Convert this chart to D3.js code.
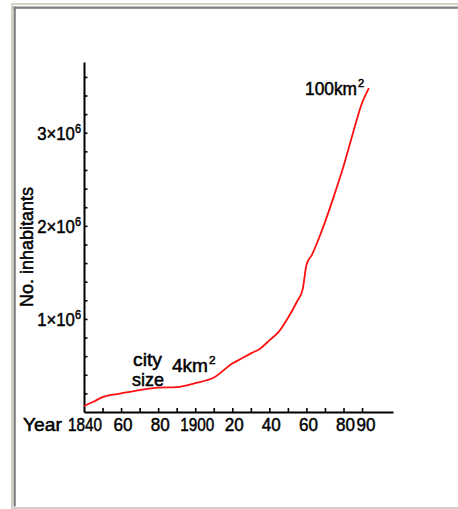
<!DOCTYPE html>
<html>
<head>
<meta charset="utf-8">
<script src="https://cdn.jsdelivr.net/npm/d3@7"></script>
<style>
  html, body { margin: 0; padding: 0; background: #fff; }
  svg { display: block; }
  text { font-family: "Liberation Sans", "DejaVu Sans", sans-serif; fill: #000; stroke: #000; stroke-width: 0.5px; }
</style>
</head>
<body>
<svg id="chart" width="458" height="509"></svg>
<script>
// Population of the city (millions of inhabitants) by year
const years = [1840, 1845, 1850, 1860, 1870, 1880, 1890, 1900, 1910, 1920, 1925, 1930, 1935,
               1940, 1945, 1950, 1955, 1958, 1960, 1963, 1967, 1970, 1975, 1980, 1985, 1990, 1993.7];
const inhabitants = [0.065, 0.11, 0.16, 0.20, 0.236, 0.262, 0.268, 0.31, 0.37, 0.52, 0.575, 0.63, 0.68,
                     0.77, 0.86, 1.01, 1.19, 1.32, 1.58, 1.69, 1.88, 2.04, 2.33, 2.64, 2.99, 3.32, 3.48];

// Axis ticks and labels
const xMinorTicks = d3.range(1850, 2000, 10);
const xLabelYears = [1840, 1860, 1880, 1900, 1920, 1940, 1960, 1980, 1990];
const xLabelTexts = ["1840", "60", "80", "1900", "20", "40", "60", "80", "90"];
const yMinorTicks = d3.range(1, 19).map(i => i * 0.2);
const yLabelValues = [1, 2, 3];
const yLabelTexts = ["1", "2", "3"];

// Annotations
const areaNotes = [
  { lines: ["city", "size"] },
  { base: "4km", sup: "2" },
  { base: "100km", sup: "2" }
];

const svg = d3.select("#chart");

// window frame
const frame = svg.append("g");
frame.append("rect").attr("x", 11).attr("y", 3).attr("width", 2).attr("height", 506).attr("fill", "#d4d0c8");
frame.append("rect").attr("x", 11).attr("y", 3).attr("width", 447).attr("height", 2).attr("fill", "#d4d0c8");
frame.append("rect").attr("x", 11).attr("y", 507).attr("width", 447).attr("height", 2).attr("fill", "#d4d0c8");
frame.append("rect").attr("x", 13.5).attr("y", 6.5).attr("width", 2.3).attr("height", 500).attr("fill", "#808080");
frame.append("rect").attr("x", 13.5).attr("y", 6.5).attr("width", 445).attr("height", 2.3).attr("fill", "#808080");

const x = d3.scaleLinear().domain([1840, 2006.7]).range([84, 393]);
const y = d3.scaleLinear().domain([0, 3.76]).range([412, 62]);

// x axis with inward ticks
const xAxis = svg.append("g")
  .attr("transform", `translate(0,${y(0)})`)
  .call(d3.axisBottom(x).tickValues(xMinorTicks).tickSizeInner(-4).tickSizeOuter(0).tickFormat(""));
// y axis with inward ticks
const yAxis = svg.append("g")
  .attr("transform", `translate(${x(1840)},0)`)
  .call(d3.axisLeft(y).tickValues(yMinorTicks).tickSizeInner(-3.5).tickSizeOuter(0).tickFormat(""));
[xAxis, yAxis].forEach(g => {
  g.select(".domain").attr("stroke", "#000").attr("stroke-width", 2);
  g.selectAll(".tick line").attr("stroke", "#000").attr("stroke-width", 1.6);
});

// year labels
svg.append("text").attr("x", 23).attr("y", 431).attr("font-size", 19)
  .attr("textLength", 39).attr("lengthAdjust", "spacingAndGlyphs").text("Year");
svg.selectAll(".xlab").data(xLabelYears).join("text")
  .attr("class", "xlab")
  .attr("x", d => x(d) + (d === 1990 ? 4 : (d === 1840 ? 1 : 2)))
  .attr("y", 431)
  .attr("font-size", 19)
  .attr("text-anchor", "middle")
  .attr("textLength", (d, i) => xLabelTexts[i].length === 4 ? 34 : 19)
  .attr("lengthAdjust", "spacingAndGlyphs")
  .text((d, i) => xLabelTexts[i]);

// value labels: n×10^6 (slightly condensed)
const yl = svg.selectAll(".ylab").data(yLabelValues).join("text")
  .attr("class", "ylab")
  .attr("transform", d => `translate(81,${y(d) + 7}) scale(0.88,1)`)
  .attr("font-size", 19)
  .attr("text-anchor", "end");
yl.append("tspan").text((d, i) => yLabelTexts[i] + "×10");
yl.append("tspan").attr("font-size", 12.5).attr("dy", -7).text("6");

// axis title
svg.append("text")
  .attr("transform", "translate(33,247) rotate(-90)")
  .attr("text-anchor", "middle")
  .attr("font-size", 18.5)
  .attr("textLength", 120).attr("lengthAdjust", "spacingAndGlyphs")
  .text("No. inhabitants");

// population curve
const pts = years.map((yr, i) => [yr, inhabitants[i]]);
svg.append("path")
  .datum(pts)
  .attr("fill", "none")
  .attr("stroke", "#ff1010")
  .attr("stroke-width", 1.8)
  .attr("d", d3.line().x(d => x(d[0])).y(d => y(d[1])).curve(d3.curveMonotoneX));

// annotations
svg.append("text").attr("x", 133).attr("y", 366).attr("font-size", 19)
  .attr("textLength", 29).attr("lengthAdjust", "spacingAndGlyphs").text(areaNotes[0].lines[0]);
svg.append("text").attr("x", 132).attr("y", 386).attr("font-size", 19)
  .attr("textLength", 32).attr("lengthAdjust", "spacingAndGlyphs").text(areaNotes[0].lines[1]);

function supLabel(xPos, yPos, note, size, w) {
  svg.append("text").attr("x", xPos).attr("y", yPos).attr("font-size", size)
    .attr("textLength", w).attr("lengthAdjust", "spacingAndGlyphs").text(note.base);
  svg.append("text").attr("x", xPos + w + 1).attr("y", yPos - size * 0.42).attr("font-size", size * 0.62)
    .text(note.sup);
}
supLabel(172, 372, areaNotes[1], 19, 36);
supLabel(305, 95, areaNotes[2], 18, 52);
</script>
</body>
</html>
